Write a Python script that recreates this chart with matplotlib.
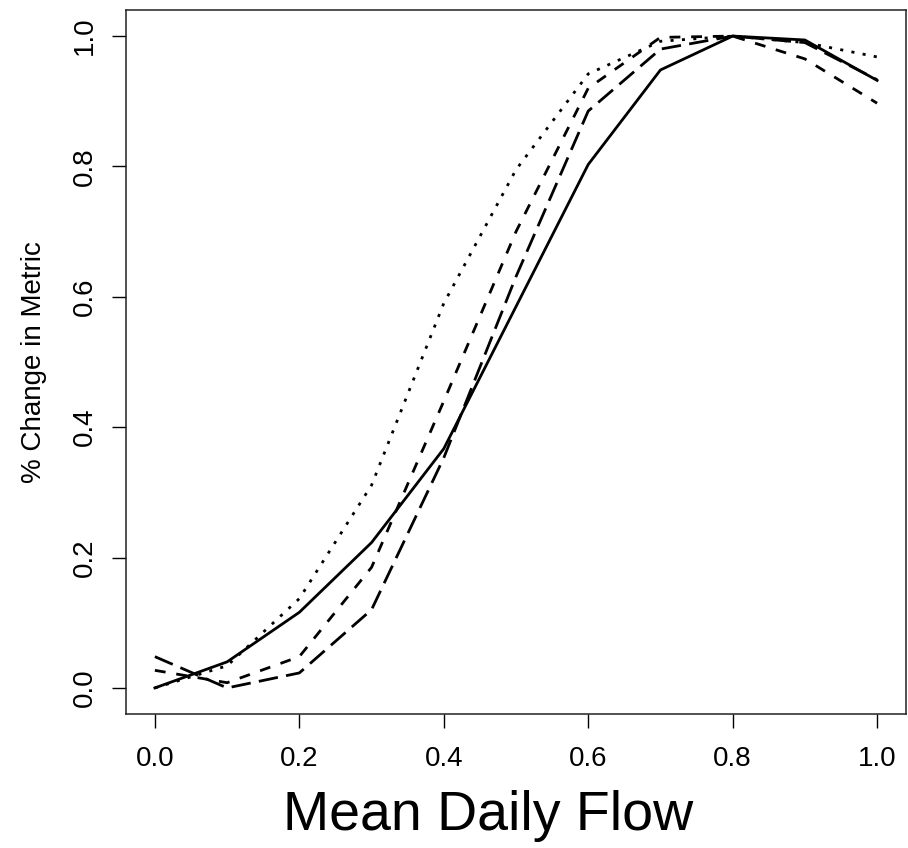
import matplotlib
matplotlib.use("Agg")
import matplotlib.pyplot as plt

plt.rcParams['font.family'] = ['Liberation Sans', 'DejaVu Sans']

flow = [0.0, 0.1, 0.2, 0.3, 0.4, 0.5, 0.6, 0.7, 0.8, 0.9, 1.0]
series_solid = [0.0, 0.040, 0.116, 0.223, 0.367, 0.585, 0.803, 0.948, 1.0, 0.994, 0.932]
series_dotted = [0.0, 0.034, 0.137, 0.311, 0.590, 0.795, 0.942, 0.992, 1.0, 0.990, 0.968]
series_dashed = [0.027, 0.008, 0.048, 0.185, 0.440, 0.700, 0.920, 0.998, 1.0, 0.965, 0.897]
series_longdash = [0.048, 0.0, 0.023, 0.120, 0.353, 0.631, 0.885, 0.980, 1.0, 0.990, 0.933]
tick_values = [0.0, 0.2, 0.4, 0.6, 0.8, 1.0]
tick_labels = ["0.0", "0.2", "0.4", "0.6", "0.8", "1.0"]

fig = plt.figure(figsize=(9.08, 8.48), dpi=100)
ax = fig.add_axes([126/908, (848-714)/848, 780/908, 704/848])

lw = 2.0
ax.plot(flow, series_solid, color='black', lw=lw, linestyle='-', solid_joinstyle='round')
ax.plot(flow, series_dotted, color='black', lw=lw, linestyle=(0, (1.1, 3.0)))
ax.plot(flow, series_dashed, color='black', lw=lw, linestyle=(0, (3.9, 3.9)))
ax.plot(flow, series_longdash, color='black', lw=lw, linestyle=(0, (7.0, 3.0)))

ax.set_xlim(-0.04, 1.04)
ax.set_ylim(-0.04, 1.04)
ax.set_xticks(tick_values)
ax.set_xticklabels(tick_labels)
ax.set_yticks(tick_values)
ax.set_yticklabels(tick_labels, rotation=90, va='center')

ax.tick_params(axis='both', direction='out', length=10, width=1.0, labelsize=20, colors='black')
ax.tick_params(axis='x', pad=13)
ax.tick_params(axis='y', pad=10.5)
for s in ax.spines.values():
    s.set_linewidth(1.1)
    s.set_color('#222222')

ax.set_xlabel("Mean Daily Flow", fontsize=40, labelpad=12)
ax.xaxis.set_label_coords((488 - 126) / 780, -0.108)
ax.xaxis.label.set_va('top')
ax.set_ylabel("% Change in Metric", fontsize=20, labelpad=18)

fig.savefig("out.png", dpi=100)
